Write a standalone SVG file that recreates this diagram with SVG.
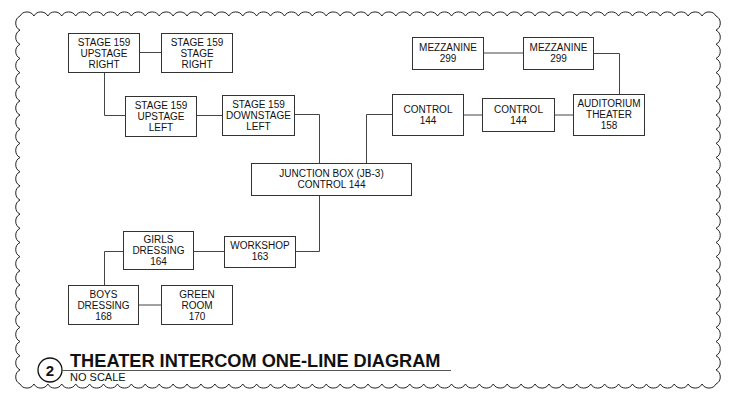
<svg xmlns="http://www.w3.org/2000/svg" width="735" height="402" viewBox="0 0 735 402">
<style>
.box{fill:#fff;stroke:#333;stroke-width:1}
.t{font-family:"Liberation Sans",Arial,sans-serif;font-size:10px;fill:#111;text-anchor:middle}
.c{fill:none;stroke:#444;stroke-width:1}
.cloud{fill:none;stroke:#222;stroke-width:1}
</style>
<rect width="735" height="402" fill="#fff"/>
<path class="cloud" d="M20,16 a8,8 0 0 1 13.92,0 a8,8 0 0 1 13.92,0 a8,8 0 0 1 13.92,0 a8,8 0 0 1 13.92,0 a8,8 0 0 1 13.92,0 a8,8 0 0 1 13.92,0 a8,8 0 0 1 13.92,0 a8,8 0 0 1 13.92,0 a8,8 0 0 1 13.92,0 a8,8 0 0 1 13.92,0 a8,8 0 0 1 13.92,0 a8,8 0 0 1 13.92,0 a8,8 0 0 1 13.92,0 a8,8 0 0 1 13.92,0 a8,8 0 0 1 13.92,0 a8,8 0 0 1 13.92,0 a8,8 0 0 1 13.92,0 a8,8 0 0 1 13.92,0 a8,8 0 0 1 13.92,0 a8,8 0 0 1 13.92,0 a8,8 0 0 1 13.92,0 a8,8 0 0 1 13.92,0 a8,8 0 0 1 13.92,0 a8,8 0 0 1 13.92,0 a8,8 0 0 1 13.92,0 a8,8 0 0 1 13.92,0 a8,8 0 0 1 13.92,0 a8,8 0 0 1 13.92,0 a8,8 0 0 1 13.92,0 a8,8 0 0 1 13.92,0 a8,8 0 0 1 13.92,0 a8,8 0 0 1 13.92,0 a8,8 0 0 1 13.92,0 a8,8 0 0 1 13.92,0 a8,8 0 0 1 13.92,0 a8,8 0 0 1 13.92,0 a8,8 0 0 1 13.92,0 a8,8 0 0 1 13.92,0 a8,8 0 0 1 13.92,0 a8,8 0 0 1 13.92,0 a8,8 0 0 1 13.92,0 a8,8 0 0 1 13.92,0 a8,8 0 0 1 13.92,0 a8,8 0 0 1 13.92,0 a8,8 0 0 1 13.92,0 a8,8 0 0 1 13.92,0 a8,8 0 0 1 13.92,0 a8,8 0 0 1 13.92,0 a8,8 0 0 1 13.92,0 a8,8 0 0 1 13.92,0
a8,8 0 0 1 0,14.154 a8,8 0 0 1 0,14.154 a8,8 0 0 1 0,14.154 a8,8 0 0 1 0,14.154 a8,8 0 0 1 0,14.154 a8,8 0 0 1 0,14.154 a8,8 0 0 1 0,14.154 a8,8 0 0 1 0,14.154 a8,8 0 0 1 0,14.154 a8,8 0 0 1 0,14.154 a8,8 0 0 1 0,14.154 a8,8 0 0 1 0,14.154 a8,8 0 0 1 0,14.154 a8,8 0 0 1 0,14.154 a8,8 0 0 1 0,14.154 a8,8 0 0 1 0,14.154 a8,8 0 0 1 0,14.154 a8,8 0 0 1 0,14.154 a8,8 0 0 1 0,14.154 a8,8 0 0 1 0,14.154 a8,8 0 0 1 0,14.154 a8,8 0 0 1 0,14.154 a8,8 0 0 1 0,14.154 a8,8 0 0 1 0,14.154 a8,8 0 0 1 0,14.154 a8,8 0 0 1 0,14.154
a8,8 0 0 1 -13.92,0 a8,8 0 0 1 -13.92,0 a8,8 0 0 1 -13.92,0 a8,8 0 0 1 -13.92,0 a8,8 0 0 1 -13.92,0 a8,8 0 0 1 -13.92,0 a8,8 0 0 1 -13.92,0 a8,8 0 0 1 -13.92,0 a8,8 0 0 1 -13.92,0 a8,8 0 0 1 -13.92,0 a8,8 0 0 1 -13.92,0 a8,8 0 0 1 -13.92,0 a8,8 0 0 1 -13.92,0 a8,8 0 0 1 -13.92,0 a8,8 0 0 1 -13.92,0 a8,8 0 0 1 -13.92,0 a8,8 0 0 1 -13.92,0 a8,8 0 0 1 -13.92,0 a8,8 0 0 1 -13.92,0 a8,8 0 0 1 -13.92,0 a8,8 0 0 1 -13.92,0 a8,8 0 0 1 -13.92,0 a8,8 0 0 1 -13.92,0 a8,8 0 0 1 -13.92,0 a8,8 0 0 1 -13.92,0 a8,8 0 0 1 -13.92,0 a8,8 0 0 1 -13.92,0 a8,8 0 0 1 -13.92,0 a8,8 0 0 1 -13.92,0 a8,8 0 0 1 -13.92,0 a8,8 0 0 1 -13.92,0 a8,8 0 0 1 -13.92,0 a8,8 0 0 1 -13.92,0 a8,8 0 0 1 -13.92,0 a8,8 0 0 1 -13.92,0 a8,8 0 0 1 -13.92,0 a8,8 0 0 1 -13.92,0 a8,8 0 0 1 -13.92,0 a8,8 0 0 1 -13.92,0 a8,8 0 0 1 -13.92,0 a8,8 0 0 1 -13.92,0 a8,8 0 0 1 -13.92,0 a8,8 0 0 1 -13.92,0 a8,8 0 0 1 -13.92,0 a8,8 0 0 1 -13.92,0 a8,8 0 0 1 -13.92,0 a8,8 0 0 1 -13.92,0 a8,8 0 0 1 -13.92,0 a8,8 0 0 1 -13.92,0 a8,8 0 0 1 -13.92,0
a8,8 0 0 1 0,-14.154 a8,8 0 0 1 0,-14.154 a8,8 0 0 1 0,-14.154 a8,8 0 0 1 0,-14.154 a8,8 0 0 1 0,-14.154 a8,8 0 0 1 0,-14.154 a8,8 0 0 1 0,-14.154 a8,8 0 0 1 0,-14.154 a8,8 0 0 1 0,-14.154 a8,8 0 0 1 0,-14.154 a8,8 0 0 1 0,-14.154 a8,8 0 0 1 0,-14.154 a8,8 0 0 1 0,-14.154 a8,8 0 0 1 0,-14.154 a8,8 0 0 1 0,-14.154 a8,8 0 0 1 0,-14.154 a8,8 0 0 1 0,-14.154 a8,8 0 0 1 0,-14.154 a8,8 0 0 1 0,-14.154 a8,8 0 0 1 0,-14.154 a8,8 0 0 1 0,-14.154 a8,8 0 0 1 0,-14.154 a8,8 0 0 1 0,-14.154 a8,8 0 0 1 0,-14.154 a8,8 0 0 1 0,-14.154 a8,8 0 0 1 0,-14.154 Z"/>
<g id="connectors">
<path class="c" d="M139,52.5H161"/>
<path class="c" d="M104.5,72V115.5H125"/>
<path class="c" d="M196,115.5H222"/>
<path class="c" d="M294,114.5H319.5V163"/>
<path class="c" d="M366.5,163V114.5H392"/>
<path class="c" d="M463,115H482"/>
<path class="c" d="M554,115H573"/>
<path class="c" d="M483,53H523"/>
<path class="c" d="M593,53.5H619.5V94"/>
<path class="c" d="M319.5,195V251.5H295"/>
<path class="c" d="M193,251.5H224"/>
<path class="c" d="M123,251.5H104.5V285"/>
<path class="c" d="M138,305H161"/>
</g>
<g id="n1"><rect class="box" x="68.5" y="33.5" width="71" height="39"/><text class="t" x="104" y="45.5">STAGE 159</text><text class="t" x="104" y="56.5">UPSTAGE</text><text class="t" x="104" y="67.5">RIGHT</text></g>
<g id="n2"><rect class="box" x="161.5" y="33.5" width="71" height="39"/><text class="t" x="197" y="45.5">STAGE 159</text><text class="t" x="197" y="56.5">STAGE</text><text class="t" x="197" y="67.5">RIGHT</text></g>
<g id="n3"><rect class="box" x="125.5" y="96.5" width="71" height="40"/><text class="t" x="161" y="108.5">STAGE 159</text><text class="t" x="161" y="119.5">UPSTAGE</text><text class="t" x="161" y="130.5">LEFT</text></g>
<g id="n4"><rect class="box" x="222.5" y="95.5" width="72" height="40"/><text class="t" x="258.5" y="107.5">STAGE 159</text><text class="t" x="258.5" y="118.5">DOWNSTAGE</text><text class="t" x="258.5" y="129.5">LEFT</text></g>
<g id="n5"><rect class="box" x="251.5" y="163.5" width="160" height="32"/><text class="t" x="331.5" y="177">JUNCTION BOX (JB-3)</text><text class="t" x="331.5" y="188">CONTROL 144</text></g>
<g id="n6"><rect class="box" x="392.5" y="94.5" width="71" height="41"/><text class="t" x="428" y="112.5">CONTROL</text><text class="t" x="428" y="123.5">144</text></g>
<g id="n7"><rect class="box" x="482.5" y="98.5" width="72" height="33"/><text class="t" x="518.5" y="112.5">CONTROL</text><text class="t" x="518.5" y="123.5">144</text></g>
<g id="n8"><rect class="box" x="573.5" y="94.5" width="71" height="41"/><text class="t" x="609" y="107">AUDITORIUM</text><text class="t" x="609" y="118">THEATER</text><text class="t" x="609" y="129">158</text></g>
<g id="n9"><rect class="box" x="412.5" y="37.5" width="71" height="32"/><text class="t" x="448" y="51">MEZZANINE</text><text class="t" x="448" y="62">299</text></g>
<g id="n10"><rect class="box" x="523.5" y="37.5" width="70" height="32"/><text class="t" x="558.5" y="51">MEZZANINE</text><text class="t" x="558.5" y="62">299</text></g>
<g id="n11"><rect class="box" x="224.5" y="236.5" width="71" height="31"/><text class="t" x="260" y="249">WORKSHOP</text><text class="t" x="260" y="260">163</text></g>
<g id="n12"><rect class="box" x="123.5" y="231.5" width="70" height="38"/><text class="t" x="158.5" y="242.5">GIRLS</text><text class="t" x="158.5" y="253.5">DRESSING</text><text class="t" x="158.5" y="264.5">164</text></g>
<g id="n13"><rect class="box" x="68.5" y="285.5" width="70" height="39"/><text class="t" x="103.5" y="297.5">BOYS</text><text class="t" x="103.5" y="308.5">DRESSING</text><text class="t" x="103.5" y="319.5">168</text></g>
<g id="n14"><rect class="box" x="161.5" y="285.5" width="71" height="39"/><text class="t" x="197" y="297.5">GREEN</text><text class="t" x="197" y="308.5">ROOM</text><text class="t" x="197" y="319.5">170</text></g>
<g id="title">
<circle cx="50" cy="370" r="12" fill="none" stroke="#111" stroke-width="1.3"/>
<text x="50" y="375.5" font-family="'Liberation Sans',Arial,sans-serif" font-size="15" font-weight="bold" text-anchor="middle" fill="#111">2</text>
<line x1="62" y1="370.5" x2="451" y2="370.5" stroke="#555" stroke-width="1"/>
<text x="70" y="367" font-family="'Liberation Sans',Arial,sans-serif" font-size="18.2" font-weight="bold" fill="#111">THEATER INTERCOM ONE-LINE DIAGRAM</text>
<text x="70" y="381" font-family="'Liberation Sans',Arial,sans-serif" font-size="11" fill="#111">NO SCALE</text>
</g>
</svg>
